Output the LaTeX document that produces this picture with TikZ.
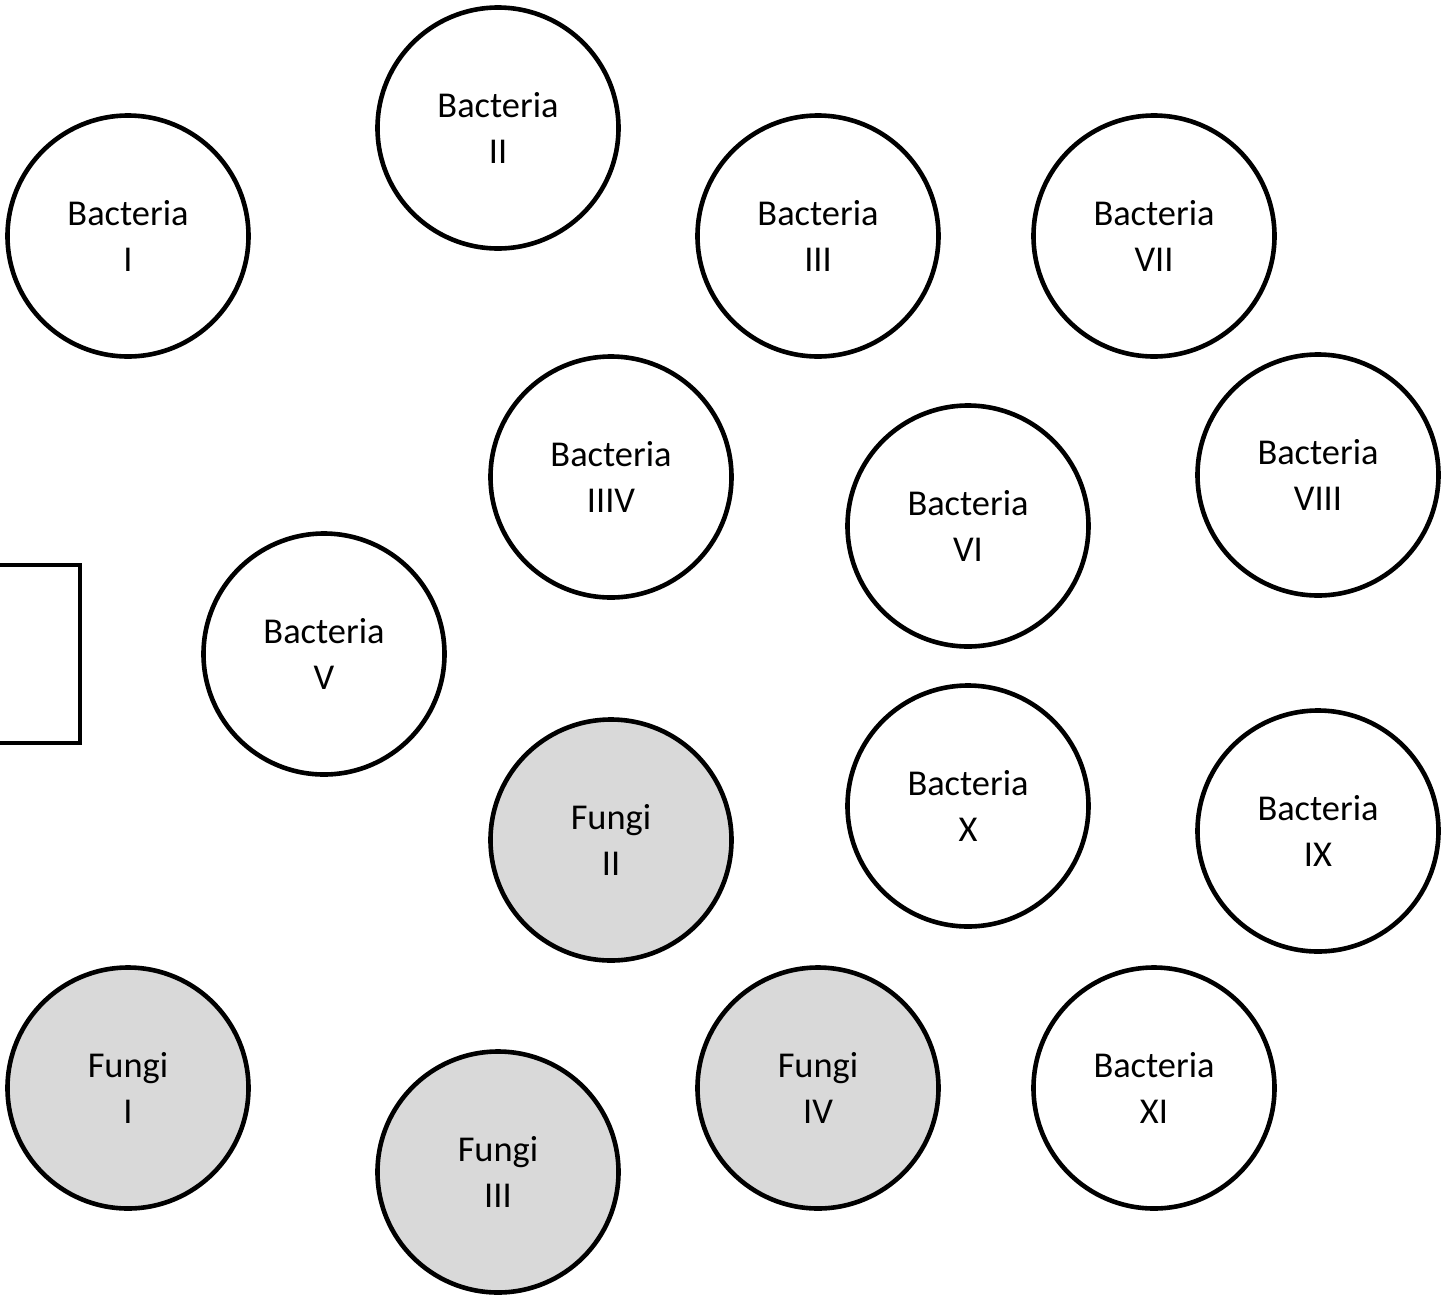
\documentclass[tikz,border=0pt]{standalone}
\usepackage{fontspec}
\setmainfont{Carlito}
\usepackage{xcolor}
\usetikzlibrary{positioning}

\definecolor{fungusgray}{HTML}{D9D9D9}

\begin{document}
\begin{tikzpicture}[
  x=0.5pt, y=-0.5pt,
  every node/.style={circle, draw, line width=2.3pt, minimum size=120.5pt,
                     inner sep=0pt, align=center,
                     font=\fontsize{18.2}{23}\selectfont},
  bact/.style={fill=white},
  fungus/.style={fill=fungusgray},
  plate/.style={rectangle, minimum width=70pt, minimum height=89pt}
]
  \useasboundingbox (0,0) rectangle (1441,1297);

  % Top rows
  \node[bact] (b1)   at (128,236)   {Bacteria\\I};
  \node[bact] (b2)   at (498,128)   {Bacteria\\II};
  \node[bact] (b3)   at (818,236)   {Bacteria\\III};
  \node[bact] (b7)   at (1154,236)  {Bacteria\\VII};

  % Middle rows
  \node[bact] (b4)   at (611,477)   {Bacteria\\IIIV};
  \node[bact] (b6)   at (968,526)   {Bacteria\\VI};
  \node[bact] (b8)   at (1318,475)  {Bacteria\\VIII};
  \node[bact] (b5)   at (324,654)   {Bacteria\\V};
  \node[bact] (b10)  at (968,806)   {Bacteria\\X};
  \node[bact] (b9)   at (1318,831)  {Bacteria\\IX};

  % Fungi
  \node[fungus] (f2) at (611,840)   {Fungi\\II};
  \node[fungus] (f1) at (128,1088)  {Fungi\\I};
  \node[fungus] (f3) at (498,1172)  {Fungi\\III};
  \node[fungus] (f4) at (818,1088)  {Fungi\\IV};
  \node[bact] (b11)  at (1154,1088) {Bacteria\\XI};

  % Box at the left edge
  \node[plate] (box) at (10,654) {};
\end{tikzpicture}
\end{document}
